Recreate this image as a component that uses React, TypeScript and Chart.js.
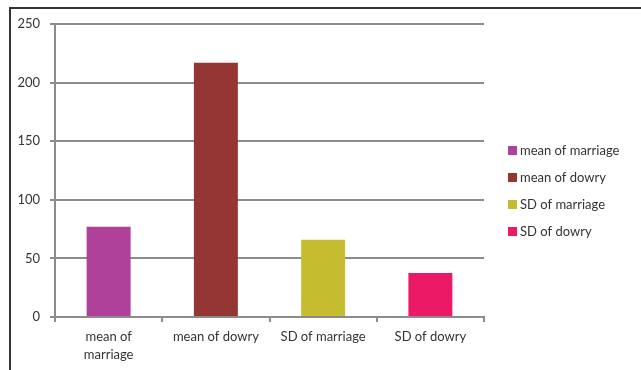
import React, { useEffect, useRef } from 'react';
import { Chart, registerables } from 'chart.js';

Chart.register(...registerables);

const categories = ['mean of marriage', 'mean of dowry', 'SD of marriage', 'SD of dowry'];
const xTickLabels = [['mean of', 'marriage'], ['mean of dowry'], ['SD of marriage'], ['SD of dowry']];
const values = [77, 217, 66, 37.5];
const barColors = ['#B0419A', '#943634', '#C5BD2F', '#EB1966'];
const yTicks = [0, 50, 100, 150, 200, 250];

const FONT = 'Lato';
const TEXT = '#333333';
const GRID = '#8c8c8c';

const sideLegend = {
  id: 'sideLegend',
  afterDraw(chart: any) {
    const { ctx, chartArea } = chart;
    const n = categories.length;
    const gap = 27;
    const cy = chart.height / 2 + 6;
    const x = chartArea.right + 24;
    ctx.save();
    ctx.font = `13px ${FONT}`;
    ctx.textBaseline = 'middle';
    ctx.textAlign = 'left';
    categories.forEach((label, i) => {
      const y = cy + (i - (n - 1) / 2) * gap;
      ctx.fillStyle = barColors[i];
      ctx.fillRect(x, Math.round(y - 4.5), 9, 9);
      ctx.fillStyle = TEXT;
      ctx.fillText(label, x + 12, y);
    });
    ctx.restore();
  },
};

export default function App() {
  const ref = useRef<HTMLCanvasElement>(null);
  useEffect(() => {
    const canvas = ref.current;
    if (!canvas) return;
    const chart = new Chart(canvas, {
      type: 'bar',
      data: {
        labels: xTickLabels as any,
        datasets: [
          {
            data: values,
            backgroundColor: barColors,
            borderWidth: 0,
            barPercentage: 0.41,
            categoryPercentage: 1,
          },
        ],
      },
      options: {
        responsive: false,
        animation: false,
        devicePixelRatio: 1,
        layout: { padding: { left: 0, right: 157, top: 24, bottom: 0 } },
        plugins: { legend: { display: false }, tooltip: { enabled: false } },
        scales: {
          x: {
            grid: { display: true, drawOnChartArea: false, drawTicks: true, tickLength: 5, color: GRID, lineWidth: 2, offset: true },
            border: { display: true, color: GRID, width: 2 },
            ticks: { color: TEXT, font: { family: FONT, size: 13, lineHeight: 1.4 }, padding: 6, maxRotation: 0, autoSkip: false },
            afterFit: (s: any) => { s.height = 53; },
          },
          y: {
            min: 0,
            max: 250,
            afterBuildTicks: (s: any) => { s.ticks = yTicks.map((v) => ({ value: v })); },
            grid: { color: GRID, lineWidth: 2, drawTicks: true, tickLength: 5 },
            border: { display: true, color: GRID, width: 2 },
            ticks: { color: TEXT, font: { family: FONT, size: 13 }, padding: 10 },
            afterFit: (s: any) => { s.width = 55; },
          },
        },
      },
      plugins: [sideLegend],
    });
    return () => chart.destroy();
  }, []);
  return (
    <>
      <div
        style={{
          position: 'fixed',
          left: 9,
          top: 7,
          right: -10,
          bottom: -10,
          borderTop: '2px solid #333',
          borderLeft: '2px solid #333',
        }}
      />
      <canvas
        ref={ref}
        width={641}
        height={370}
        style={{ position: 'fixed', left: 0, top: 0, width: 641, height: 370 }}
      />
    </>
  );
}
